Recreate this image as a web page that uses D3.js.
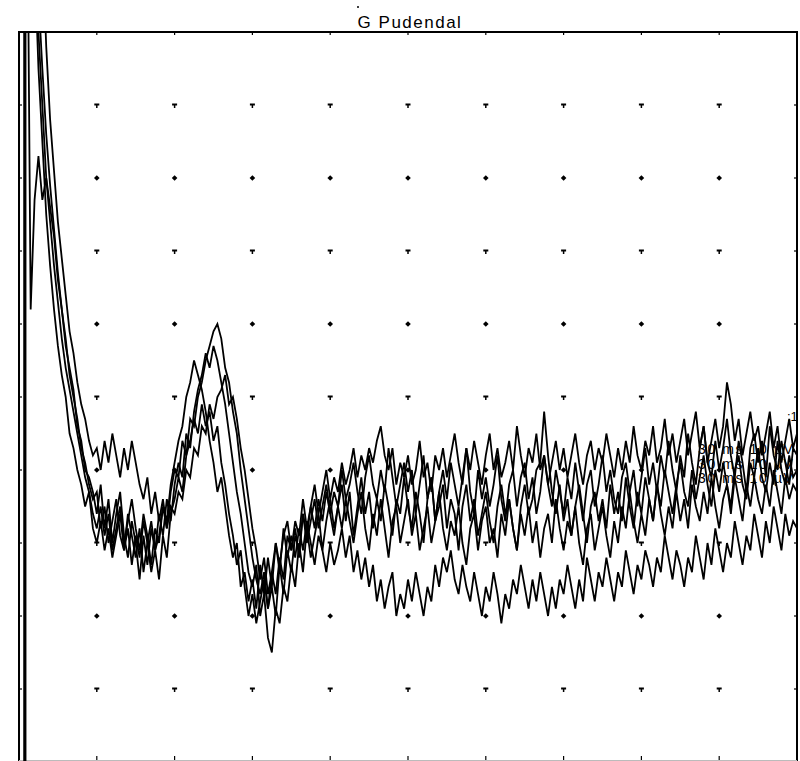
<!DOCTYPE html>
<html>
<head>
<meta charset="utf-8">
<script src="https://cdn.jsdelivr.net/npm/d3@7"></script>
<style>
  html, body { margin: 0; padding: 0; background: #fff; }
  svg { display: block; }
  text { font-family: "Liberation Sans", Arial, sans-serif; fill: #000; }
</style>
</head>
<body>
<svg id="chart" width="800" height="761"></svg>
<script>
// ---------------- DATA ----------------
const title = "G Pudendal";
const sampleStepMs = 0.5;          // sampling interval of every trace (ms)
const timeDomain = [0, 100];       // ms, 10 ms / division
const valueDomain = [-50, 50];     // µV, 10 µV / division
const stimulusTime = 0.75;         // ms, stimulus artefact
const gridTimes = [10, 20, 30, 40, 50, 60, 70, 80, 90];
const gridValues = [40, 30, 20, 10, 0, -10, -20, -30, -40];
const sweepLabels = ["30 ms 10 µV", "30 ms 10 µV", "30 ms 10 µV"];
const sweepLabelValues = [-7.8, -9.8, -11.8];

const trace1 = [80,80,80,80,70,55,45,36,29,23,
 17,12,8,3,0,-3,-7,-9,-12,-14,
 -13,-18,-15,-20,-17,-14,-19,-21,-16,-19,
 -22,-18,-24,-20,-17,-21,-19,-15,-18,-13,
 -10,-11,-6,-8,-3,-4,0,2,5,7,
 9,10,8,4,2,-2,-5,-10,-14,-18,
 -22,-25,-27,-24,-29,-26,-30,-23,-27,-21,
 -24,-19,-21,-16,-20,-17,-14,-18,-15,-12,
 -16,-13,-15,-10,-14,-12,-9,-13,-16,-11,
 -8,-12,-14,-10,-13,-7,-11,-15,-12,-9,
 -13,-10,-16,-12,-8,-14,-11,-17,-13,-10,
 -14,-9,-12,-15,-11,-7,-13,-16,-10,-14,
 -11,-15,-12,-8,-14,-17,-12,-10,-15,-11,
 -9,-14,-11,-16,-13,-8,-12,-15,-10,-13,
 -16,-11,-14,-9,-13,-17,-12,-10,-15,-12,
 -8,-13,-10,-14,-16,-11,-9,-13,-10,-15,
 -11,-7,-12,-9,-13,-8,-11,-6,-10,-13,
 -8,-11,-5,-9,-12,-7,-4,-9,-11,-6,
 -10,-7,-3,-8,-11,-6,-9,-13,-7,-5,
 -9,-6,-11,-4,-8,-10,-6,-9,-12,-7,
 -8];

const trace2 = [80,80,80,12,27,33,27,30,26,22,
 16,12,7,4,1,-4,-6,-10,-11,-13,
 -16,-12,-18,-14,-20,-16,-13,-19,-22,-17,
 -20,-25,-19,-23,-18,-21,-16,-19,-14,-17,
 -12,-9,-11,-5,-7,-2,1,3,6,4,
 7,5,2,-1,-5,-9,-13,-16,-20,-24,
 -26,-23,-30,-27,-33,-35,-29,-31,-26,-28,
 -23,-26,-20,-24,-18,-22,-19,-16,-21,-17,
 -14,-18,-15,-12,-17,-13,-19,-15,-11,-16,
 -13,-18,-14,-17,-12,-15,-19,-14,-16,-11,
 -15,-18,-13,-16,-20,-14,-11,-17,-15,-12,
 -18,-14,-16,-21,-15,-12,-17,-14,-19,-16,
 -13,-17,-20,-15,-12,-16,-14,-18,-21,-15,
 -12,-16,-14,-10,-9,-2,-8,-13,-16,-12,
 -17,-14,-19,-15,-12,-16,-20,-15,-13,-17,
 -14,-18,-12,-16,-13,-17,-11,-15,-18,-13,
 -16,-11,-14,-17,-12,-15,-10,-13,-16,-12,
 -9,-13,-15,-10,-14,-11,-8,-12,-15,-10,
 -13,-9,-12,-15,-10,-8,-12,-14,-9,-11,
 -7,-11,-13,-9,-12,-6,-10,-12,-8,-11,
 -10];

const trace3 = [80,80,80,80,80,75,62,48,38,31,
 24,19,14,9,6,2,-1,-3,-6,-8,
 -7,-10,-6,-9,-5,-8,-11,-7,-10,-6,
 -9,-12,-14,-11,-16,-13,-17,-14,-18,-15,
 -16,-13,-14,-10,-11,-7,-8,-4,-5,-1,
 -3,0,1,3,-1,0,-3,-7,-10,-14,
 -18,-21,-25,-22,-27,-24,-20,-23,-19,-17,
 -21,-17,-19,-14,-18,-15,-12,-16,-13,-10,
 -14,-11,-13,-9,-12,-10,-7,-11,-8,-10,
 -7,-9,-6,-4,-8,-10,-7,-12,-9,-11,
 -8,-12,-10,-6,-11,-9,-13,-8,-10,-7,
 -11,-8,-5,-9,-12,-7,-10,-6,-9,-12,
 -8,-5,-10,-7,-11,-9,-6,-10,-4,-8,
 -11,-7,-9,-5,-10,-8,-12,-9,-6,-10,
 -7,-11,-8,-5,-9,-12,-8,-6,-10,-7,
 -9,-5,-8,-11,-7,-10,-6,-9,-4,-8,
 -10,-6,-8,-4,-9,-7,-3,-8,-5,-9,
 -6,-3,-8,-5,-2,-7,-4,-9,-6,-3,
 -7,-4,2,-1,-6,-3,-8,-5,-2,-6,
 -4,-8,-5,-2,-7,-4,-9,-6,-3,-7,
 -5];

const trace4 = [80,80,80,80,60,45,35,25,18,12,
 7,3,0,-5,-7,-10,-12,-15,-13,-18,
 -20,-17,-21,-18,-22,-19,-16,-21,-18,-23,
 -19,-22,-17,-20,-24,-21,-25,-19,-22,-16,
 -14,-11,-13,-8,-6,-3,-5,-1,-4,-2,
 -6,-4,-9,-12,-16,-19,-23,-21,-26,-30,
 -27,-31,-28,-25,-29,-24,-27,-22,-25,-19,
 -21,-18,-22,-16,-19,-15,-18,-14,-17,-13,
 -16,-19,-15,-18,-14,-17,-20,-16,-13,-18,
 -21,-16,-19,-14,-18,-22,-17,-15,-20,-17,
 -14,-19,-16,-21,-18,-15,-20,-17,-13,-18,
 -21,-17,-19,-15,-20,-23,-18,-16,-21,-17,
 -15,-20,-18,-22,-16,-19,-14,-18,-21,-16,
 -19,-15,-20,-17,-22,-18,-16,-20,-14,-18,
 -21,-17,-19,-15,-20,-23,-18,-16,-21,-18,
 -15,-19,-22,-17,-20,-15,-18,-13,-17,-20,
 -16,-19,-14,-17,-12,-16,-19,-15,-18,-13,
 -17,-14,-18,-12,-15,-17,-13,-16,-11,-15,
 -18,-14,-12,-16,-11,-14,-17,-12,-15,-11,
 -14,-16,-12,-15,-10,-13,-16,-11,-14,-12,
 -13];

const trace5 = [80,80,80,80,66,50,40,30,24,18,
 13,8,4,1,-2,-5,-8,-11,-13,-16,
 -18,-15,-19,-16,-21,-18,-15,-20,-17,-14,
 -18,-21,-16,-19,-23,-18,-20,-15,-17,-12,
 -9,-6,-4,0,2,5,3,1,-2,-6,
 -9,-13,-11,-15,-19,-22,-20,-26,-24,-28,
 -25,-29,-23,-27,-22,-26,-20,-24,-18,-22,
 -19,-22,-18,-21,-17,-20,-23,-19,-21,-24,
 -20,-23,-21,-18,-22,-19,-24,-21,-25,-22,
 -26,-23,-28,-25,-29,-26,-24,-30,-27,-29,
 -25,-28,-24,-27,-30,-26,-28,-23,-26,-22,
 -24,-21,-25,-27,-23,-26,-28,-24,-27,-30,
 -26,-28,-24,-27,-31,-27,-29,-25,-27,-23,
 -26,-29,-25,-28,-24,-27,-30,-26,-29,-25,
 -27,-23,-26,-29,-25,-28,-22,-25,-28,-24,
 -26,-22,-25,-28,-24,-26,-21,-24,-27,-23,
 -25,-21,-23,-26,-22,-24,-19,-22,-25,-21,
 -23,-26,-22,-24,-19,-22,-25,-20,-23,-18,
 -21,-24,-20,-22,-17,-20,-23,-19,-21,-16,
 -19,-22,-17,-20,-15,-18,-21,-16,-19,-17,
 -18];

const traces = [trace1, trace2, trace3, trace4, trace5];

// ---------------- LAYOUT ----------------
const plot = { left: 19, right: 797, top: 32, bottom: 762 };
const svg = d3.select("#chart");
svg.append("rect").attr("width", 800).attr("height", 761).attr("fill", "#fff");

const x = d3.scaleLinear().domain(timeDomain).range([plot.left, plot.right]);
const y = d3.scaleLinear().domain(valueDomain).range([plot.bottom, plot.top]);

svg.append("clipPath").attr("id", "plotclip")
  .append("rect")
  .attr("x", plot.left).attr("y", plot.top)
  .attr("width", plot.right - plot.left).attr("height", plot.bottom - plot.top);

// grid markers
const gridG = svg.append("g");
gridValues.forEach((v, ri) => {
  gridTimes.forEach(t => {
    const cx = x(t), cy = y(v);
    if (ri % 2 === 0) {
      gridG.append("rect").attr("x", cx - 2.5).attr("y", cy - 1.5).attr("width", 5).attr("height", 2).attr("fill", "#000");
      gridG.append("rect").attr("x", cx - 0.75).attr("y", cy - 1).attr("width", 1.5).attr("height", 4).attr("fill", "#000");
    } else {
      gridG.append("path")
        .attr("d", `M${cx},${cy - 2.8} L${cx + 2.8},${cy} L${cx},${cy + 2.8} L${cx - 2.8},${cy} Z`)
        .attr("fill", "#000");
    }
  });
});

// frame
const frame = svg.append("g").attr("stroke", "#000").attr("fill", "none");
frame.append("line").attr("x1", plot.left - 1).attr("x2", plot.right + 1).attr("y1", plot.top).attr("y2", plot.top).attr("stroke-width", 2);
frame.append("line").attr("x1", plot.left).attr("x2", plot.left).attr("y1", plot.top).attr("y2", plot.bottom).attr("stroke-width", 2);
frame.append("line").attr("x1", plot.right).attr("x2", plot.right).attr("y1", plot.top).attr("y2", plot.bottom).attr("stroke-width", 2);
frame.append("line").attr("x1", plot.left).attr("x2", plot.right).attr("y1", 760.5).attr("y2", 760.5).attr("stroke-width", 1).attr("stroke", "#bbb");

gridTimes.forEach(t => {
  frame.append("line").attr("x1", x(t)).attr("x2", x(t)).attr("y1", plot.top).attr("y2", plot.top + 3).attr("stroke-width", 1.2);
  frame.append("line").attr("x1", x(t)).attr("x2", x(t)).attr("y1", 760).attr("y2", 756).attr("stroke-width", 1.2);
});
gridValues.forEach(v => {
  frame.append("line").attr("x1", plot.left).attr("x2", plot.left + 3).attr("y1", y(v)).attr("y2", y(v)).attr("stroke-width", 1.2);
  frame.append("line").attr("x1", plot.right).attr("x2", plot.right - 3).attr("y1", y(v)).attr("y2", y(v)).attr("stroke-width", 1.2);
});

// stimulus artefact
svg.append("line")
  .attr("x1", x(stimulusTime)).attr("x2", x(stimulusTime))
  .attr("y1", plot.top).attr("y2", plot.bottom)
  .attr("stroke", "#000").attr("stroke-width", 3.2);

// sweep labels (behind traces)
const labG = svg.append("g").attr("clip-path", "url(#plotclip)");
sweepLabels.forEach((s, i) => {
  labG.append("text")
    .attr("x", 698).attr("y", y(sweepLabelValues[i]))
    .attr("font-size", 14).attr("letter-spacing", 1.6)
    .text(s);
});
labG.append("text").attr("x", 787).attr("y", 421).attr("font-size", 13).text(":1");

// traces
const line = d3.line()
  .x((d, i) => x(i * sampleStepMs))
  .y(d => y(d));

svg.append("g").attr("clip-path", "url(#plotclip)")
  .selectAll("path.trace")
  .data(traces)
  .join("path")
  .attr("class", "trace")
  .attr("d", line)
  .attr("fill", "none")
  .attr("stroke", "#000")
  .attr("stroke-width", 1.8)
  .attr("stroke-linejoin", "miter");

// title
svg.append("text")
  .attr("x", 410).attr("y", 28)
  .attr("text-anchor", "middle")
  .attr("font-size", 17)
  .attr("letter-spacing", 1.5)
  .text(title);
svg.append("circle").attr("cx", 358).attr("cy", 7).attr("r", 1).attr("fill", "#000");
</script>
</body>
</html>
